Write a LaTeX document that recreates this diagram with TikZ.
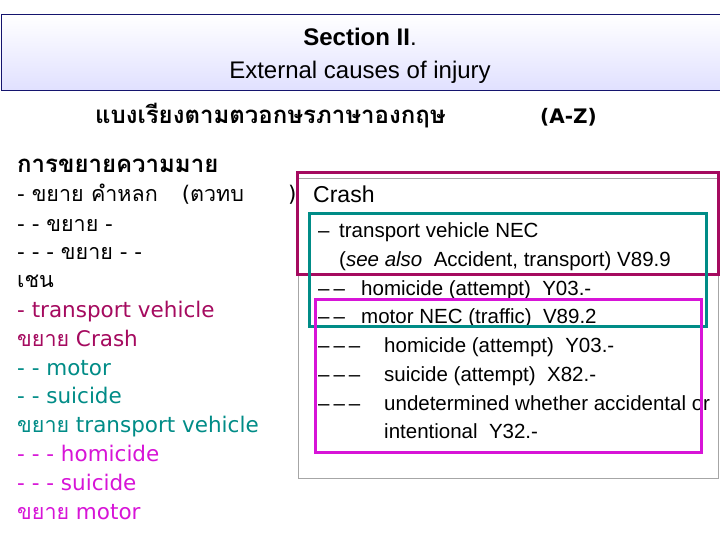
\documentclass[tikz,border=0pt]{standalone}
\usepackage{fontspec}
\setmainfont{DejaVu Sans}
\newfontfamily\thf[Script=Thai]{Loma}
\newfontfamily\arf{Liberation Sans}
\definecolor{maroonc}{RGB}{165,10,95}
\definecolor{tealc}{RGB}{0,140,135}
\definecolor{magc}{RGB}{215,20,215}
\definecolor{titleb}{RGB}{20,20,110}
\newcommand{\dsh}{\textendash\hspace{4pt}}
\begin{document}
\begin{tikzpicture}[x=1pt,y=-1pt,
  lt/.style={anchor=base west,inner sep=0pt,font=\fontsize{21.5}{24}\selectfont},
  rt/.style={anchor=base west,inner sep=0pt,font=\arf\fontsize{20.5}{24}\selectfont},
  frame/.style={line width=3pt}]
\useasboundingbox (0,0) rectangle (720,540);
\fill[white] (0,0) rectangle (720,540);
\node[draw=titleb,line width=0.8pt,top color=white,bottom color=blue!12,minimum width=719pt,minimum height=76pt,anchor=north west,inner sep=0pt] (title) at (0.5,14) {};
\node[font=\fontsize{24}{33}\selectfont\arf,align=center] (tt) at (360,56) {\textbf{Section II}.\\External causes of injury};
\node[lt,font=\thf\bfseries\fontsize{24}{26}\selectfont] (h1) at (95,124) {แบงเรียงตามตวอกษรภาษาองกฤษ};
\node[lt,font=\bfseries\fontsize{20}{24}\selectfont] (az) at (540,124) {(A-Z)};
% left column
\node[lt,font=\thf\bfseries\fontsize{24}{26}\selectfont] (l0) at (17,173) {การขยายความมาย};
\node[lt] (l1) at (17,202) {- {\thf ขยาย คำหลก}\hspace{24pt}({\thf ตวทบ}\hspace{44pt})};
\node[lt] (l2) at (17,231) {- - {\thf ขยาย} -};
\node[lt] (l3) at (17,259) {- - - {\thf ขยาย} - -};
\node[lt] (l4) at (17,287) {\thf เชน};
\node[lt,text=maroonc] (l5) at (17,317) {- transport vehicle};
\node[lt,text=maroonc] (l6) at (17,346) {{\thf ขยาย} Crash};
\node[lt,text=tealc] (l7) at (17,375) {- - motor};
\node[lt,text=tealc] (l8) at (17,403) {- - suicide};
\node[lt,text=tealc] (l9) at (17,432) {{\thf ขยาย} transport vehicle};
\node[lt,text=magc] (l10) at (17,461) {- - - homicide};
\node[lt,text=magc] (l11) at (17,490) {- - - suicide};
\node[lt,text=magc] (l12) at (17,519) {{\thf ขยาย} motor};
% right panel
\draw[gray!70,line width=0.8pt] (298,178) rectangle (718,478);
\node[rt,font=\arf\fontsize{23}{26}\selectfont] (r0) at (313,203) {Crash};
\node[rt] (r1) at (318,237) {\textendash};
\node[rt] (r1b) at (339,237) {transport vehicle NEC};
\node[rt] (r2) at (339,266) {(\textit{see also}\ \ Accident, transport) V89.9};
\node[rt] (r3) at (318,295) {\dsh\textendash};
\node[rt] (r3b) at (361,295) {homicide (attempt)\ \ Y03.-};
\node[rt] (r4) at (318,323) {\dsh\textendash};
\node[rt] (r4b) at (361,323) {motor NEC (traffic)\ \ V89.2};
\node[rt] (r5) at (318,352) {\dsh\dsh\textendash};
\node[rt] (r5b) at (384,352) {homicide (attempt)\ \ Y03.-};
\node[rt] (r6) at (318,381) {\dsh\dsh\textendash};
\node[rt] (r6b) at (384,381) {suicide (attempt)\ \ X82.-};
\node[rt] (r7) at (318,410) {\dsh\dsh\textendash};
\node[rt] (r7b) at (384,410) {undetermined whether accidental or};
\node[rt] (r8) at (384,438) {intentional\ \ Y32.-};
\draw[frame,maroonc] (297,173) rectangle (718,274);
\draw[frame,tealc] (309,214) rectangle (706,326);
\draw[frame,magc] (315,299) rectangle (701,452);
\end{tikzpicture}
\end{document}
